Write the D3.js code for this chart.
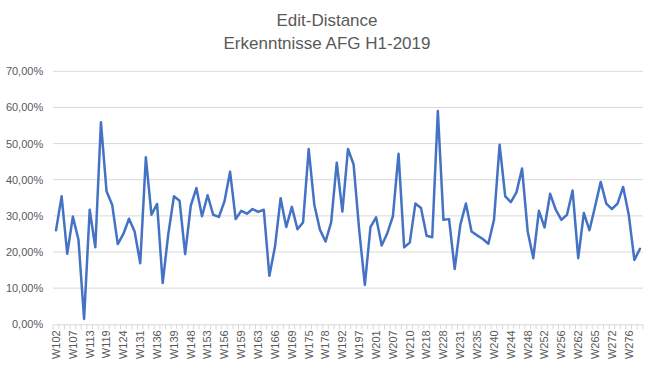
<!DOCTYPE html>
<html><head><meta charset="utf-8">
<script src="https://cdn.jsdelivr.net/npm/d3@7"></script>
<style>body{margin:0;background:#fff;} svg{display:block;}</style>
</head><body>
<script>
const categories = ["W102","W103","W105","W107","W109","W111","W113","W115","W117","W119","W121","W122","W124","W126","W129","W131","W133","W134","W136","W137","W138","W139","W142","W145","W148","W150","W151","W153","W154","W155","W156","W157","W158","W159","W160","W162","W163","W164","W165","W166","W167","W168","W169","W171","W173","W175","W176","W177","W178","W183","W188","W192","W194","W195","W197","W198","W200","W201","W203","W205","W207","W208","W209","W210","W213","W216","W218","W221","W225","W228","W229","W230","W231","W232","W234","W235","W237","W238","W240","W241","W243","W244","W245","W247","W248","W249","W251","W252","W253","W255","W256","W258","W260","W262","W263","W264","W265","W267","W270","W272","W273","W275","W276","W277","W278"];
const values = [26.0,35.4,19.5,29.8,23.4,1.5,31.7,21.3,55.9,36.8,33.1,22.2,25.0,29.2,25.7,16.9,46.2,30.3,33.3,11.4,25.0,35.4,34.2,19.4,32.8,37.7,29.9,35.7,30.3,29.7,34.0,42.2,29.1,31.4,30.6,31.9,31.1,31.7,13.4,21.5,34.9,26.9,32.5,26.3,28.2,48.5,33.1,26.2,22.9,28.2,44.7,31.2,48.5,44.2,26.0,10.9,26.9,29.6,21.8,25.2,29.9,47.2,21.3,22.6,33.4,32.2,24.5,24.1,59.0,28.9,29.1,15.3,27.5,33.4,25.7,24.6,23.6,22.3,28.9,49.7,35.4,33.8,36.5,43.1,25.7,18.3,31.4,26.8,36.1,31.7,28.9,30.3,37.0,18.3,30.8,26.0,32.6,39.4,33.4,31.9,33.4,38.0,30.3,17.8,20.9];
const yTicks = [0,10,20,30,40,50,60,70];
const titleLines = ["Edit-Distance","Erkenntnisse AFG H1-2019"];

const W = 653, H = 368;
const mLeft = 53.2, mRight = 642.8, mTop = 71.3, mBottom = 324.3;
const svg = d3.select("body").append("svg").attr("width", W).attr("height", H);
const loc = d3.formatLocale({decimal: ",", thousands: ".", grouping: [3], currency: ["", "€"]});
const fmt = v => loc.format(".2f")(v) + "%";

const x = d3.scaleBand().domain(categories).range([mLeft, mRight]).padding(0);
const y = d3.scaleLinear().domain([0, 70]).range([mBottom, mTop]);

// gridlines
svg.append("g").selectAll("line").data(yTicks.filter(d => d > 0)).join("line")
  .attr("x1", mLeft).attr("x2", mRight)
  .attr("y1", d => y(d)).attr("y2", d => y(d))
  .attr("stroke", "#d9d9d9").attr("stroke-width", 1);

// y axis labels
const yAxis = d3.axisLeft(y).tickValues(yTicks).tickFormat(fmt).tickSize(0).tickPadding(10);
const gy = svg.append("g").attr("transform", `translate(${mLeft},0)`).call(yAxis);
gy.select(".domain").remove();
gy.selectAll("text").attr("fill", "#595959").style("font-family", "Liberation Sans, Arial, sans-serif").style("font-size", "11px");

// x axis
const xAxis = d3.axisBottom(x).tickSize(0).tickFormat((d, i) => i % 3 === 0 ? d : "");
const gx = svg.append("g").attr("transform", `translate(0,${mBottom})`).call(xAxis);
gx.select(".domain").attr("stroke", "#d9d9d9");
gx.selectAll(".tick line").remove();
gx.selectAll(".tick text")
  .attr("transform", "rotate(-90)")
  .attr("x", -6).attr("y", 0).attr("dy", "0.35em")
  .attr("text-anchor", "end")
  .attr("fill", "#595959")
  .style("font-family", "Liberation Sans, Arial, sans-serif").style("font-size", "11px");
// minor ticks at band boundaries
const bounds = categories.map(c => x(c)).concat([x(categories[categories.length - 1]) + x.bandwidth()]);
svg.append("g").selectAll("line").data(bounds).join("line")
  .attr("x1", d => d).attr("x2", d => d)
  .attr("y1", mBottom).attr("y2", mBottom + 5)
  .attr("stroke", "#d9d9d9").attr("stroke-width", 1);

// line
const line = d3.line().x((d, i) => x(categories[i]) + x.bandwidth() / 2).y(d => y(d));
svg.append("path").datum(values).attr("d", line)
  .attr("fill", "none").attr("stroke", "#4472C4").attr("stroke-width", 2.5)
  .attr("stroke-linejoin", "round").attr("stroke-linecap", "round");

// title
svg.append("g").selectAll("text").data(titleLines).join("text")
  .attr("x", 327).attr("y", (d, i) => 26 + i * 23)
  .attr("text-anchor", "middle").attr("fill", "#595959")
  .style("font-family", "Liberation Sans, Arial, sans-serif").style("font-size", "17px")
  .text(d => d);
</script>
</body></html>
